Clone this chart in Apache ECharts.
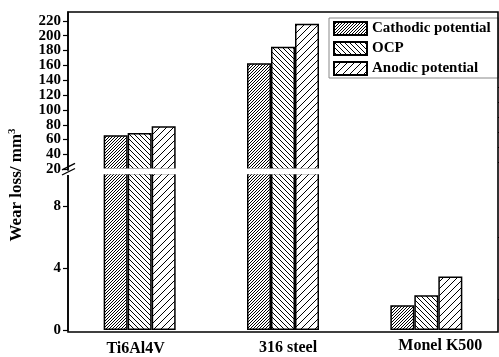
<!DOCTYPE html>
<html><head><meta charset="utf-8">
<script src="https://cdn.jsdelivr.net/npm/echarts@6/dist/echarts.min.js"></script>
<style>html,body{margin:0;padding:0;background:#fff}#c{width:499px;height:357px}</style>
</head><body><div id="c"></div>
<script>
// ---- data ----
const categories = ['Ti6Al4V', '316 steel', 'Monel K500'];
const seriesNames = ['Cathodic potential', 'OCP', 'Anodic potential'];
const cathodic = [66, 163, 1.6];
const ocp = [69, 185, 2.25];
const anodic = [78, 216, 3.45];
const upperTicks = [20, 40, 60, 80, 100, 120, 140, 160, 180, 200, 220];
const upperMinor = [30, 50, 70, 90, 110, 130, 150, 170, 190, 210];
const lowerTicks = [0, 4, 8];
const lowerMinor = [2, 6];
const upperRange = [20, 232];
const lowerRange = [0, 10.1];

// ---- layout ----
const L = 68, R = 498, TOP = 12, UB = 169.3, LT = 173.5, BOT = 332;
const FONT = 'Liberation Serif';

function hatch(step, dir) {
  const c = document.createElement('canvas');
  c.width = step; c.height = step;
  const g = c.getContext('2d');
  g.fillStyle = '#fff'; g.fillRect(0, 0, step, step);
  g.strokeStyle = '#000'; g.lineWidth = 1;
  g.beginPath();
  for (let k = -1; k <= 1; k++) {
    if (dir === '/') { g.moveTo(k * step, step); g.lineTo(k * step + step, 0); }
    else { g.moveTo(k * step, 0); g.lineTo(k * step + step, step); }
  }
  g.stroke();
  return { image: c, repeat: 'repeat' };
}
const patterns = [hatch(3, '/'), hatch(5, '\\'), hatch(7, '/')];
const values = [cathodic, ocp, anodic];

const chart = echarts.init(document.getElementById('c'), null, { renderer: 'canvas' });

const series = [];
values.forEach((vals, i) => {
  const style = { color: patterns[i], borderColor: '#000', borderWidth: 1.5 };
  series.push({
    name: seriesNames[i], type: 'bar', xAxisIndex: 0, yAxisIndex: 0,
    data: vals.map(v => v > upperRange[0] ? v : '-'),
    barWidth: 24, barGap: '0%', itemStyle: style, clip: true, silent: true
  });
  series.push({
    name: seriesNames[i], type: 'bar', xAxisIndex: 1, yAxisIndex: 2,
    data: vals, barWidth: 24, barGap: '0%', itemStyle: style, clip: true, silent: true
  });
});

const axisLine = { show: true, lineStyle: { color: '#000', width: 1.5 } };
const tickLabel = { color: '#000', fontFamily: FONT, fontWeight: 'bold', fontSize: 15, margin: 7 };

chart.setOption({
  animation: false,
  backgroundColor: '#fff',
  grid: [
    { left: L, right: 499 - R, top: TOP, height: UB - TOP },
    { left: L, right: 499 - R, top: LT, height: BOT - LT }
  ],
  xAxis: [
    { type: 'category', gridIndex: 0, data: categories, show: false },
    { type: 'category', gridIndex: 1, data: categories, axisLine: { show: false },
      axisTick: { show: false },
      axisLabel: {
        interval: 0, hideOverlap: false,
        color: '#000', fontFamily: FONT, fontWeight: 'bold', fontSize: 16, margin: 8,
        formatter: (v, i) => '{c' + i + '|' + v + '}',
        rich: {
          c0: { fontFamily: FONT, fontWeight: 'bold', fontSize: 16, padding: [3, 8, 0, 0] },
          c1: { fontFamily: FONT, fontWeight: 'bold', fontSize: 16, padding: [1.5, 0, 0, 10] },
          c2: { fontFamily: FONT, fontWeight: 'bold', fontSize: 16, padding: [0, 0, 0, 28] }
        }
      } }
  ],
  yAxis: [
    { type: 'value', gridIndex: 0, min: upperRange[0], max: upperRange[1], axisLine: axisLine,
      axisTick: { show: true, customValues: upperTicks, length: 5, lineStyle: { color: '#000', width: 1.2 } },
      axisLabel: Object.assign({ customValues: upperTicks }, tickLabel), splitLine: { show: false } },
    { type: 'value', gridIndex: 0, min: upperRange[0], max: upperRange[1], axisLine: { show: false },
      axisTick: { show: true, customValues: upperMinor, length: 3, lineStyle: { color: '#000', width: 1.2 } },
      axisLabel: { show: false }, splitLine: { show: false } },
    { type: 'value', gridIndex: 1, min: lowerRange[0], max: lowerRange[1], axisLine: axisLine,
      axisTick: { show: true, customValues: lowerTicks, length: 5, lineStyle: { color: '#000', width: 1.2 } },
      axisLabel: Object.assign({ customValues: lowerTicks }, tickLabel), splitLine: { show: false } },
    { type: 'value', gridIndex: 1, min: lowerRange[0], max: lowerRange[1], axisLine: { show: false },
      axisTick: { show: true, customValues: lowerMinor, length: 3, lineStyle: { color: '#000', width: 1.2 } },
      axisLabel: { show: false }, splitLine: { show: false } }
  ],
  legend: {
    data: seriesNames, orient: 'vertical', left: 329, top: 18,
    itemWidth: 33, itemHeight: 13, itemGap: 5, icon: 'rect', selectedMode: false,
    padding: [3, 8, 2, 4], borderColor: '#888', borderWidth: 1, backgroundColor: '#fff',
    textStyle: { color: '#000', fontFamily: FONT, fontWeight: 'bold', fontSize: 15 }
  },
  graphic: [
    { type: 'rect', silent: true, z: 10, shape: { x: L, y: TOP, width: R - L, height: BOT - TOP },
      style: { fill: 'none', stroke: '#000', lineWidth: 1.6 } },
    { type: 'rect', silent: true, z: 50, shape: { x: L + 1, y: UB - 0.8, width: R - L - 2.5, height: LT - UB + 1.6 },
      style: { fill: '#fff' } },
    { type: 'rect', silent: true, z: 50, shape: { x: L - 2, y: UB + 1.5, width: 4, height: LT - UB },
      style: { fill: '#fff' } },
    { type: 'line', silent: true, z: 60, shape: { x1: L - 6, y1: UB + 0.5, x2: L + 7, y2: UB - 6 },
      style: { stroke: '#000', lineWidth: 1.3 } },
    { type: 'line', silent: true, z: 60, shape: { x1: L - 6, y1: LT + 1.5, x2: L + 7, y2: LT - 5 },
      style: { stroke: '#000', lineWidth: 1.3 } },
    { type: 'text', silent: true, z: 60, x: 27, y: 185, rotation: Math.PI / 2,
      style: { text: 'Wear loss/ mm{s|3}', fill: '#000', fontFamily: FONT, fontWeight: 'bold', fontSize: 17,
        align: 'center', verticalAlign: 'bottom',
        rich: { s: { fontFamily: FONT, fontWeight: 'bold', fontSize: 11, padding: [0, 0, 9, 0], fill: '#000' } } } }
  ],
  series: series
});
</script></body></html>
